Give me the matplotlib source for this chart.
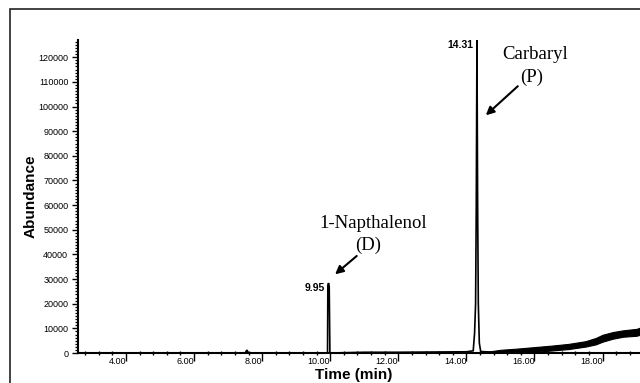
import numpy as np
import matplotlib
matplotlib.use('Agg')
import matplotlib.pyplot as plt
from matplotlib.ticker import MultipleLocator, FixedLocator
from matplotlib.patches import Rectangle

# chromatogram (time in min, abundance)
time_main = [2.6, 7.50, 7.55, 7.60, 9.90, 9.92, 9.93, 9.95, 9.97, 9.99, 10.01,
             11.0, 12.0, 13.0, 14.0, 14.20, 14.24, 14.27, 14.29, 14.31, 14.33,
             14.35, 14.38, 14.42, 14.7]
abund_main = [0, 0, 1200, 0, 0, 0, 27500, 28400, 27000, 0, 0,
              300, 300, 400, 500, 900, 8000, 20000, 60000, 127000, 60000,
              20000, 4000, 600, 400]

# rising baseline at the end of the run (noisy band: lower / upper edge)
time_drift = [14.6, 15.0, 15.5, 16.0, 16.5, 17.0, 17.5, 17.8, 18.0, 18.3, 18.6, 19.0, 19.1]
drift_low = [0, 0, 300, 500, 1000, 1600, 2600, 3500, 4600, 5800, 6600, 7000, 7400]
drift_high = [500, 1300, 1800, 2400, 3000, 3700, 4800, 6100, 7400, 8500, 9200, 9800, 10300]

peak_labels = [(9.95, 28400, '9.95'), (14.31, 127000, '14.31')]

fig = plt.figure(figsize=(6.4, 3.83), dpi=100)
ax = fig.add_axes([0.1219, 0.0783, 0.8781, 0.8173])

ax.plot(time_main, abund_main, color='k', lw=1.2, solid_joinstyle='miter')
ax.fill_between(time_drift, drift_low, drift_high, color='k', lw=0.8, edgecolor='k')

ax.set_xlim(2.59, 19.1)
ax.set_ylim(0, 127000)

for s in ['top', 'right']:
    ax.spines[s].set_visible(False)
for s in ['left', 'bottom']:
    ax.spines[s].set_linewidth(1.5)

ax.xaxis.set_major_locator(FixedLocator([4, 6, 8, 10, 12, 14, 16, 18]))
ax.xaxis.set_minor_locator(MultipleLocator(0.4))
ax.set_xticklabels(['4.00', '6.00', '8.00', '10.00', '12.00', '14.00', '16.00', '18.00'])
ax.yaxis.set_major_locator(MultipleLocator(10000))
ax.yaxis.set_minor_locator(MultipleLocator(1250))

ax.tick_params(axis='x', which='major', direction='out', length=6, width=1, pad=-3,
               labelsize=6.5)
ax.tick_params(axis='x', which='minor', direction='inout', length=3, width=1)
ax.tick_params(axis='y', which='major', direction='out', length=4, width=1, pad=3,
               labelsize=6.5)
ax.tick_params(axis='y', which='minor', direction='out', length=2.5, width=0.9)
for lab in ax.get_xticklabels():
    lab.set_horizontalalignment('right')
for lab in ax.get_xticklabels() + ax.get_yticklabels():
    lab.set_fontfamily('Liberation Sans')

ax.set_xlabel('Time (min)', fontsize=11, fontweight='bold', family='Liberation Sans',
              va='center')
ax.xaxis.set_label_coords(0.49, -0.07)
ax.set_ylabel('Abundance', fontsize=11, fontweight='bold', family='Liberation Sans',
              va='center')
ax.yaxis.set_label_coords(-0.085, 0.5)

for t, a, s in peak_labels:
    ax.text(t - 0.1, a, s, ha='right', va='top', fontsize=7.5, fontweight='bold',
            family='Liberation Sans')

serif = dict(ha='center', va='center', fontsize=13.5, family='Liberation Serif')
ax.text(11.25, 52700, '1-Napthalenol', **serif)
ax.text(11.11, 43800, '(D)', **serif)
ax.annotate('', xy=(10.08, 31200), xytext=(10.84, 40100),
            arrowprops=dict(arrowstyle='-|>', color='k', lw=1.5, mutation_scale=12))
ax.text(16.01, 121200, 'Carbaryl', **serif)
ax.text(15.92, 111900, '(P)', **serif)
ax.annotate('', xy=(14.51, 95700), xytext=(15.57, 109000),
            arrowprops=dict(arrowstyle='-|>', color='k', lw=1.5, mutation_scale=12))

fig.patches.append(Rectangle((10 / 640, -0.05), 1.0, 1 - 9 / 383 + 0.05,
                             transform=fig.transFigure, fill=False,
                             edgecolor='#222222', lw=1.2))

fig.savefig('out.png', dpi=100)
